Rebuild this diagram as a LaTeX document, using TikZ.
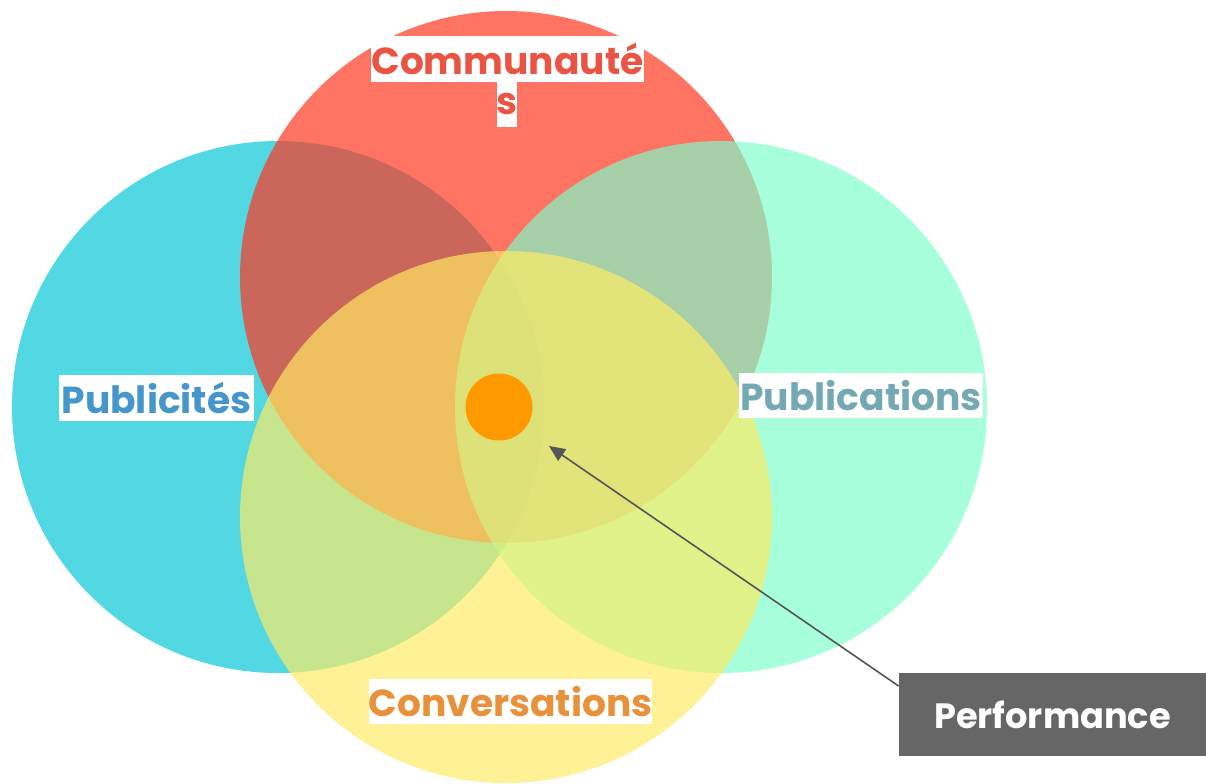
\documentclass[tikz,border=0pt]{standalone}
\usepackage{fontspec}
\setmainfont{Poppins}
\usetikzlibrary{arrows.meta}
\definecolor{cCyan}{RGB}{82,216,227}
\definecolor{cRed}{RGB}{255,55,33}
\definecolor{cMint}{RGB}{125,255,203}
\definecolor{cYel}{RGB}{255,236,100}
\definecolor{tRed}{RGB}{234,84,68}
\definecolor{tBlue}{RGB}{69,150,203}
\definecolor{tTeal}{RGB}{116,168,178}
\definecolor{tOrange}{RGB}{232,145,58}
\definecolor{cDot}{RGB}{255,153,0}
\definecolor{cBox}{RGB}{102,102,102}
\definecolor{cArrow}{RGB}{85,85,85}
\tikzset{
  venn/.style={circle, minimum size=266pt, inner sep=0pt, draw=none},
  lbl/.style={fill=white, inner sep=0pt, font=\bfseries\fontsize{18.8}{22}\selectfont, anchor=center},
}
\begin{document}
\begin{tikzpicture}[x=0.5pt,y=-0.5pt]
\useasboundingbox (0,0) rectangle (1206,783);
\node[venn, fill=cCyan] (pub) at (278,407) {};
\node[venn, fill=cRed, fill opacity=0.7] (com) at (506,277) {};
\node[venn, fill=cMint, fill opacity=0.67] (publ) at (721,407) {};
\node[venn, fill=cYel, fill opacity=0.68] (conv) at (506,517) {};
\node[circle, fill=cDot, minimum size=33.5pt, inner sep=0pt] (dot) at (499,407) {};
\node[lbl, text=tRed, minimum width=135.5pt, minimum height=23pt] (lcom) at (507.5,59) {Communauté};
\node[lbl, text=tRed, minimum width=10pt, minimum height=22.5pt] (lcoms) at (507,104.5) {s};
\node[lbl, text=tBlue, minimum width=97.5pt, minimum height=23pt] (lpub) at (156.5,398) {Publicités};
\node[lbl, text=tTeal, minimum width=122pt, minimum height=22.5pt] (lpubl) at (861,395.5) {Publications};
\node[lbl, text=tOrange, minimum width=139.5pt, minimum height=22.5pt] (lconv) at (510.5,701.5) {Conversations};
\node[fill=cBox, text=white, font=\bfseries\fontsize{17.6}{20}\selectfont, minimum width=153.5pt, minimum height=41.5pt, inner sep=0pt] (perf) at (1052.5,714.5) {Performance};
\coordinate (tip) at (549,446);
\draw[cArrow, line width=0.8pt, -{Triangle[length=8pt,width=7pt]}] (perf.west |- 0,686) -- (tip);
\end{tikzpicture}
\end{document}
